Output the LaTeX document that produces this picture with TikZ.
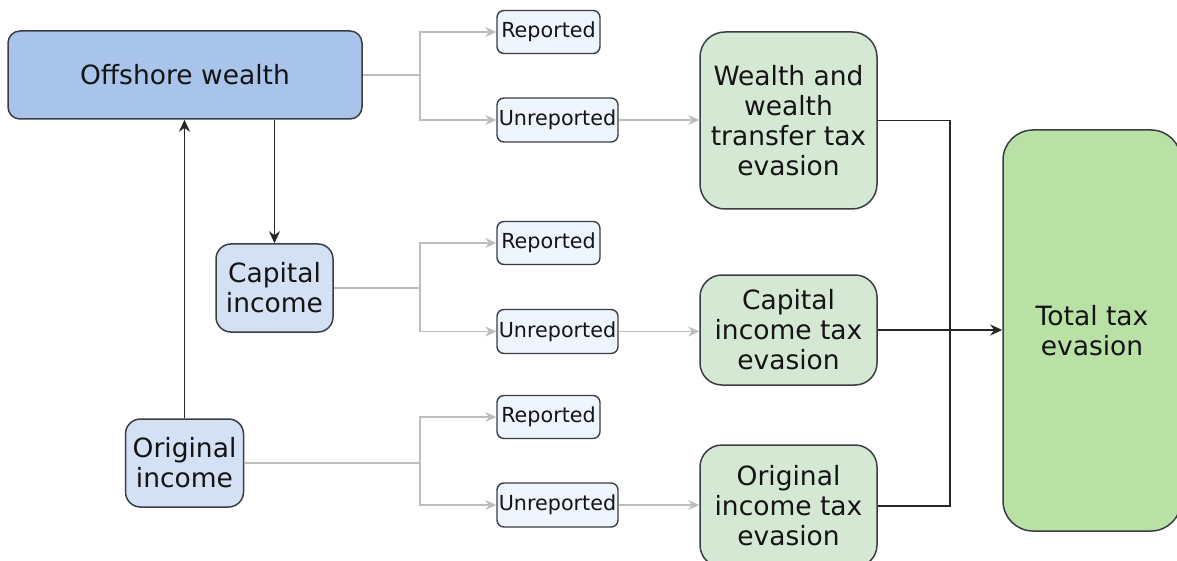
\documentclass[tikz,border=0pt]{standalone}
\usepackage{fontspec}
\setmainfont{DejaVu Sans}
\usetikzlibrary{arrows.meta}
\definecolor{bordergray}{HTML}{3A3D42}
\definecolor{offblue}{HTML}{A9C4EB}
\definecolor{inblue}{HTML}{D4E1F5}
\definecolor{repblue}{HTML}{EEF5FC}
\definecolor{evgreen}{HTML}{D5E8D4}
\definecolor{totgreen}{HTML}{B9E0A5}
\definecolor{linegray}{HTML}{BDBDBD}
\begin{document}
\begin{tikzpicture}[x=1pt,y=-1pt,
  box/.style={draw=bordergray, line width=1.5pt, align=center, inner sep=0pt, text=black!92,
    font=\fontsize{26.5}{30}\selectfont},
  smallbox/.style={draw=bordergray, line width=1.4pt, align=center, inner sep=0pt, fill=repblue,
    rounded corners=7pt, text=black!92, font=\fontsize{20.7}{24}\selectfont},
  grayline/.style={draw=linegray, line width=1.7pt},
  grayarrow/.style={grayline, -{Stealth[length=11pt,width=10pt]}},
  blackline/.style={draw=black!85, line width=1.8pt},
  blackarrow/.style={blackline, -{Stealth[length=12pt,width=11pt]}}
]
\useasboundingbox (0,0) rectangle (1177,561);

% left column
\node[box, fill=offblue, rounded corners=12pt, minimum width=354pt, minimum height=88pt] (ow) at (185,75) {Offshore wealth};
\node[box, fill=inblue, rounded corners=15pt, minimum width=117pt, minimum height=88pt] (cap) at (274.5,288) {Capital\\income};
\node[box, fill=inblue, rounded corners=15pt, minimum width=118pt, minimum height=88pt] (orig) at (184.5,463) {Original\\income};

% reported / unreported
\node[smallbox, minimum width=103pt, minimum height=43pt] (r1) at (548.5,32) {Reported};
\node[smallbox, minimum width=121pt, minimum height=44pt] (u1) at (557.5,120) {Unreported};
\node[smallbox, minimum width=103pt, minimum height=43pt] (r2) at (548.5,243) {Reported};
\node[smallbox, minimum width=121pt, minimum height=44pt] (u2) at (557.5,331.5) {Unreported};
\node[smallbox, minimum width=103pt, minimum height=43pt] (r3) at (548.5,417) {Reported};
\node[smallbox, minimum width=121pt, minimum height=44pt] (u3) at (557.5,505) {Unreported};

% evasion boxes
\node[box, fill=evgreen, rounded corners=25pt, minimum width=177pt, minimum height=177pt] (g1) at (788.5,120.5) {Wealth and\\wealth\\transfer tax\\evasion};
\node[box, fill=evgreen, rounded corners=22pt, minimum width=177pt, minimum height=110pt] (g2) at (788.5,330) {Capital\\income tax\\evasion};
\node[box, fill=evgreen, rounded corners=22pt, minimum width=177pt, minimum height=122pt] (g3) at (788.5,506) {Original\\income tax\\evasion};
\node[box, fill=totgreen, rounded corners=30pt, minimum width=178pt, minimum height=401pt] (tot) at (1092,330.5) {Total tax\\evasion};

% branching connectors
\coordinate (b1) at (420,75);
\coordinate (b2) at (420,288);
\coordinate (b3) at (420,463);
\draw[grayline] (ow.east) -- (b1);
\draw[grayarrow] (b1) |- (r1.west);
\draw[grayarrow] (b1) |- (u1.west);
\draw[grayline] (cap.east) -- (b2);
\draw[grayarrow] (b2) |- (r2.west);
\draw[grayarrow] (b2) |- (u2.west);
\draw[grayline] (orig.east) -- (b3);
\draw[grayarrow] (b3) |- (r3.west);
\draw[grayarrow] (b3) |- (u3.west);

\draw[grayarrow] (u1.east) -- (u1.east -| g1.west);
\draw[grayarrow] (u2.east) -- (u2.east -| g2.west);
\draw[grayarrow] (u3.east) -- (u3.east -| g3.west);

% vertical black arrows
\draw[blackarrow] (cap.north |- ow.south) -- (cap.north);
\draw[blackarrow] (orig.north) -- (orig.north |- ow.south);

% to total
\coordinate (j) at (950,330);
\draw[blackline] (g1.east) -| (j);
\draw[blackline] (g3.east) -| (j);
\draw[blackarrow] (g2.east) -- (g2.east -| tot.west);
\end{tikzpicture}
\end{document}
